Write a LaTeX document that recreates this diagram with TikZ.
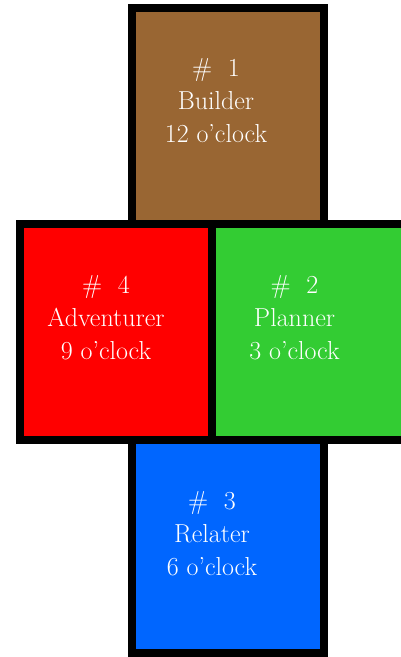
\documentclass[tikz,border=0pt]{standalone}
\usetikzlibrary{positioning}
\definecolor{builderbrown}{HTML}{996633}
\definecolor{adventurerred}{HTML}{FF0000}
\definecolor{plannergreen}{HTML}{33CC33}
\definecolor{relaterblue}{HTML}{0066FF}

\begin{document}
\begin{tikzpicture}[
        x=1pt, y=-1pt,
        quadrant/.style={rectangle, draw=black, line width=8pt, outer sep=0pt, inner sep=0pt, minimum width=192pt, minimum height=216pt},
        quadtext/.style={text=white, align=center, font=\fontsize{26}{33}\selectfont, anchor=base}
    ]
    \useasboundingbox (0,0) rectangle (401,657);

    \node (builder) [quadrant, fill=builderbrown] at (228,116) {};
    \node (adventurer) [quadrant, fill=adventurerred, anchor=north east] at ([xshift=-16pt]builder.south) {};
    \node (planner) [quadrant, fill=plannergreen, minimum width=193pt, right=0pt of adventurer] {};
    \node (relater) [quadrant, fill=relaterblue, minimum height=213pt, anchor=north] at (builder.south |- adventurer.south) {};

    % base anchor sits on the last line
    \node (builder-text) [quadtext] at ([shift={(-12,26)}]builder.center) {\#~~1\\Builder\\12 o'clock};
    \node (adventurer-text) [quadtext] at ([shift={(-10,27)}]adventurer.center) {\#~~4\\Adventurer\\9 o'clock};
    \node (planner-text) [quadtext] at ([shift={(-14,27)}]planner.center) {\#~~2\\Planner\\3 o'clock};
    \node (relater-text) [quadtext] at ([shift={(-16,28.5)}]relater.center) {\#~~3\\Relater\\6 o'clock};

\end{tikzpicture}
\end{document}
